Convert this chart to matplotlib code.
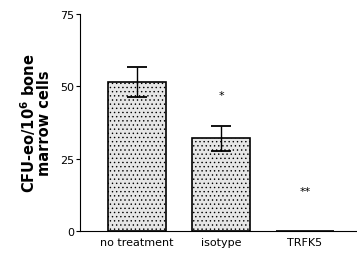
import numpy as np
import matplotlib
matplotlib.use('Agg')
import matplotlib.pyplot as plt

groups = ['no treatment', 'isotype', 'TRFK5']
means = [51.5, 32.0, 0.0]
errors = [5.2, 4.3, 0.0]
stars = ['', '*', '**']
star_y = [0, 47, 14]

plt.rcParams['hatch.color'] = '#a8a8a8'
plt.rcParams['hatch.linewidth'] = 0.5

fig = plt.figure(figsize=(3.57, 2.55), dpi=100)
ax = fig.add_axes([0.224, 0.09, 0.776, 0.851])

ind = np.arange(len(groups))
ax.bar(ind, means, 0.7, color='#e6e6e6', edgecolor='black', linewidth=1.2,
       hatch='....', zorder=2)
for i in range(len(groups)):
    if errors[i] > 0:
        ax.errorbar(ind[i], means[i], yerr=errors[i], color='black', capsize=7,
                    elinewidth=1, capthick=1.3, zorder=3)
    if stars[i]:
        ax.text(ind[i], star_y[i], stars[i], ha='center', va='center', fontsize=8)

ax.set_xlim(-0.679, 2.619)
ax.set_ylim(0, 75)
ax.set_yticks([0, 25, 50, 75])
ax.set_xticks(ind)
ax.set_xticklabels(groups, fontsize=8)
ax.tick_params(axis='x', length=0, pad=4)
ax.tick_params(axis='y', labelsize=8, length=3, pad=1)
for s in ['top', 'right']:
    ax.spines[s].set_visible(False)
ax.spines['left'].set_linewidth(0.8)
ax.spines['bottom'].set_linewidth(0.8)
ax.set_ylabel('CFU-eo/10$^\\mathbf{6}$ bone\nmarrow cells', fontsize=10.5,
              fontweight='bold', linespacing=0.9, labelpad=6)

plt.savefig('out.png', dpi=100)
